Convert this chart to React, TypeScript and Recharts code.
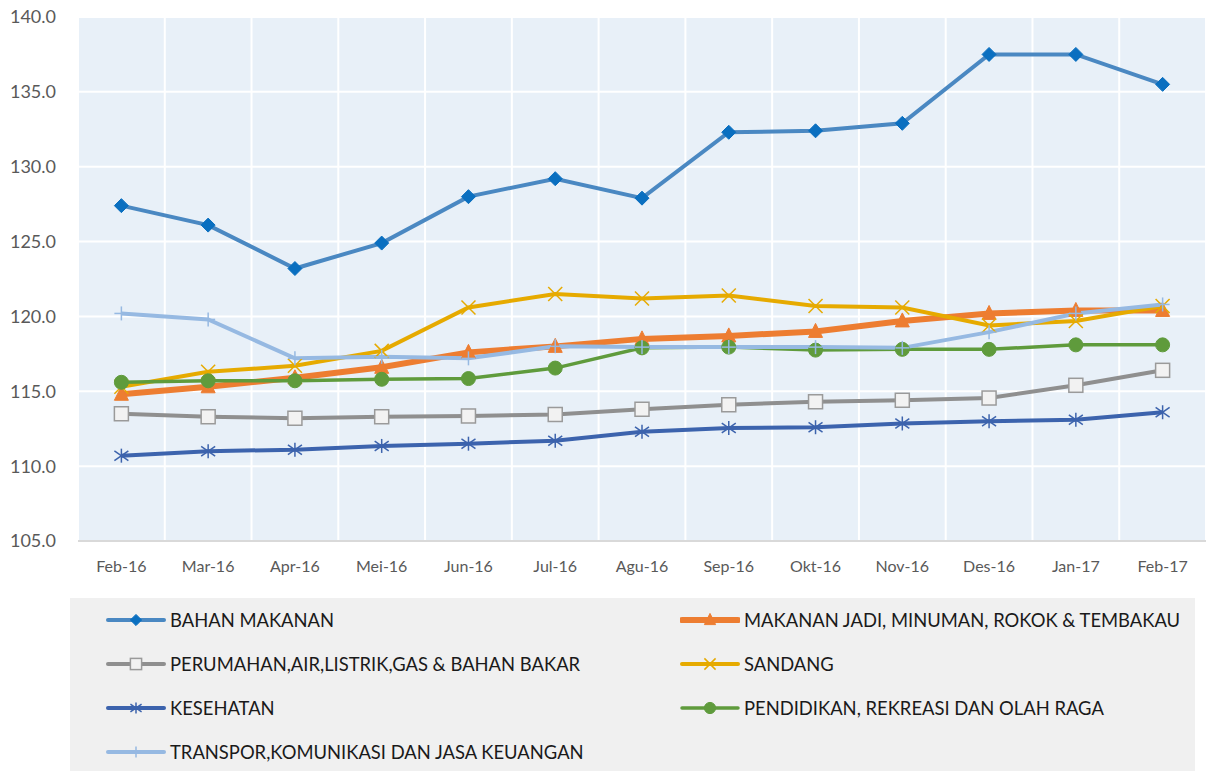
import { LineChart, Line, XAxis, YAxis, CartesianGrid } from 'recharts'

const months = ['Feb-16', 'Mar-16', 'Apr-16', 'Mei-16', 'Jun-16', 'Jul-16', 'Agu-16', 'Sep-16', 'Okt-16', 'Nov-16', 'Des-16', 'Jan-17', 'Feb-17']

const bahanMakanan = [127.4, 126.1, 123.2, 124.9, 128.0, 129.2, 127.9, 132.3, 132.4, 132.9, 137.5, 137.5, 135.5]
const makananJadi = [114.8, 115.3, 115.9, 116.6, 117.6, 118.0, 118.5, 118.7, 119.0, 119.7, 120.2, 120.4, 120.4]
const perumahan = [113.5, 113.3, 113.2, 113.3, 113.35, 113.45, 113.8, 114.1, 114.3, 114.4, 114.55, 115.4, 116.4]
const sandang = [115.3, 116.3, 116.7, 117.7, 120.6, 121.5, 121.2, 121.4, 120.7, 120.6, 119.4, 119.7, 120.7]
const kesehatan = [110.7, 111.0, 111.1, 111.35, 111.5, 111.7, 112.3, 112.55, 112.6, 112.85, 113.0, 113.1, 113.6]
const pendidikan = [115.6, 115.7, 115.7, 115.8, 115.85, 116.55, 117.9, 117.95, 117.75, 117.8, 117.8, 118.1, 118.1]
const transpor = [120.2, 119.8, 117.2, 117.3, 117.2, 118.0, 117.95, 117.95, 117.95, 117.9, 118.95, 120.2, 120.8]

const yTicks = [105, 110, 115, 120, 125, 130, 135, 140]

const data = months.map((m, i) => ({
  month: m,
  bahan: bahanMakanan[i],
  makanan: makananJadi[i],
  perumahan: perumahan[i],
  sandang: sandang[i],
  kesehatan: kesehatan[i],
  pendidikan: pendidikan[i],
  transpor: transpor[i],
}))

type Shape = 'diamond' | 'triangle' | 'square' | 'x' | 'star' | 'circle' | 'plus'

interface SeriesDef {
  key: string
  name: string
  color: string
  width: number
  shape: Shape
  markFill: string
  markStroke: string
}

const series: SeriesDef[] = [
  { key: 'bahan', name: 'BAHAN MAKANAN', color: '#4a88c2', width: 4, shape: 'diamond', markFill: '#0a6fc0', markStroke: '#0a6fc0' },
  { key: 'makanan', name: 'MAKANAN JADI, MINUMAN, ROKOK & TEMBAKAU', color: '#ed7d31', width: 6, shape: 'triangle', markFill: '#ed7d31', markStroke: '#ed7d31' },
  { key: 'perumahan', name: 'PERUMAHAN,AIR,LISTRIK,GAS & BAHAN BAKAR', color: '#8f8f8f', width: 4, shape: 'square', markFill: '#f2f2f2', markStroke: '#9a9a9a' },
  { key: 'sandang', name: 'SANDANG', color: '#e6aa00', width: 4, shape: 'x', markFill: 'none', markStroke: '#e6aa00' },
  { key: 'kesehatan', name: 'KESEHATAN', color: '#3c63ad', width: 4, shape: 'star', markFill: 'none', markStroke: '#3c63ad' },
  { key: 'pendidikan', name: 'PENDIDIKAN, REKREASI DAN OLAH RAGA', color: '#5f9b3c', width: 3.5, shape: 'circle', markFill: '#5f9b3c', markStroke: '#5f9b3c' },
  { key: 'transpor', name: 'TRANSPOR,KOMUNIKASI DAN JASA KEUANGAN', color: '#96b9e2', width: 4, shape: 'plus', markFill: 'none', markStroke: '#96b9e2' },
]

function Marker({ cx, cy, s, scale = 1 }: { cx: number; cy: number; s: SeriesDef; scale?: number }) {
  const r = 7 * scale
  switch (s.shape) {
    case 'diamond':
      return <polygon points={`${cx},${cy - r} ${cx + r},${cy} ${cx},${cy + r} ${cx - r},${cy}`} fill={s.markFill} stroke={s.markStroke} strokeWidth={1} />
    case 'triangle':
      return <polygon points={`${cx},${cy - r - 1} ${cx + r},${cy + r - 1} ${cx - r},${cy + r - 1}`} fill={s.markFill} stroke={s.markStroke} strokeWidth={1} />
    case 'square':
      return <rect x={cx - r} y={cy - r} width={2 * r} height={2 * r} fill={s.markFill} stroke={s.markStroke} strokeWidth={1.5} />
    case 'circle':
      return <circle cx={cx} cy={cy} r={r} fill={s.markFill} stroke={s.markStroke} />
    case 'x':
      return (
        <g stroke={s.markStroke} strokeWidth={1.5}>
          <line x1={cx - r} y1={cy - r} x2={cx + r} y2={cy + r} />
          <line x1={cx - r} y1={cy + r} x2={cx + r} y2={cy - r} />
        </g>
      )
    case 'star':
      return (
        <g stroke={s.markStroke} strokeWidth={1.5}>
          <line x1={cx - r} y1={cy - r * 0.7} x2={cx + r} y2={cy + r * 0.7} />
          <line x1={cx - r} y1={cy + r * 0.7} x2={cx + r} y2={cy - r * 0.7} />
          <line x1={cx} y1={cy - r} x2={cx} y2={cy + r} />
        </g>
      )
    case 'plus':
      return (
        <g stroke={s.markStroke} strokeWidth={1.5}>
          <line x1={cx - r} y1={cy} x2={cx + r} y2={cy} />
          <line x1={cx} y1={cy - r} x2={cx} y2={cy + r} />
        </g>
      )
  }
  return null
}

function makeDot(s: SeriesDef) {
  return (props: any) => {
    const { cx, cy, index } = props
    if (cx == null || cy == null) return <g key={`${s.key}-${index}`} />
    return (
      <g key={`${s.key}-${index}`}>
        <Marker cx={cx} cy={cy} s={s} />
      </g>
    )
  }
}

function LegendItem({ s }: { s: SeriesDef }) {
  return (
    <div style={{ display: 'flex', alignItems: 'center', height: 44 }}>
      <svg width={60} height={20} style={{ marginRight: 4 }}>
        <line x1={2} y1={10} x2={58} y2={10} stroke={s.color} strokeWidth={s.width} strokeLinecap="round" />
        <Marker cx={30} cy={10} s={s} scale={0.8} />
      </svg>
      <span>{s.name}</span>
    </div>
  )
}

export default function App() {
  return (
    <div style={{ position: 'absolute', left: 0, top: 0, width: 1208, height: 771, background: '#ffffff', fontFamily: 'Lato, "Open Sans", sans-serif' }}>
      <LineChart width={1208} height={590} data={data} margin={{ top: 17, right: 2, left: 0, bottom: 0 }}>
        <CartesianGrid
          stroke="#ffffff"
          strokeWidth={2}
          fill="#e8f0f8"
          verticalCoordinatesGenerator={({ offset }: any) =>
            months.map((_, i) => offset.left + ((i + 1) * offset.width) / months.length).concat([offset.left])
          }
        />
        <XAxis
          dataKey="month"
          scale="band"
          height={49}
          tickLine={false}
          axisLine={{ stroke: '#d9d9d9', strokeWidth: 2 }}
          tick={{ fill: '#595959', fontSize: 16 }}
          tickMargin={14}
        />
        <YAxis
          width={78}
          domain={[105, 140]}
          ticks={yTicks}
          tickFormatter={(v: number) => v.toFixed(1)}
          axisLine={false}
          tickLine={false}
          tick={{ fill: '#595959', fontSize: 18 }}
          tickMargin={16}
        />
        {series.map((s) => (
          <Line
            key={s.key}
            type="linear"
            dataKey={s.key}
            name={s.name}
            stroke={s.color}
            strokeWidth={s.width}
            dot={makeDot(s)}
            activeDot={false}
            isAnimationActive={false}
          />
        ))}
      </LineChart>
      <div
        style={{
          position: 'absolute',
          left: 70,
          top: 598,
          width: 1125,
          height: 173,
          background: '#f0f0f0',
          fontSize: 18.4,
          color: '#1a1a1a',
        }}
      >
        <div style={{ position: 'absolute', left: 36, top: 0 }}>
          {series.filter((_, i) => i % 2 === 0).map((s) => (
            <LegendItem key={s.key} s={s} />
          ))}
        </div>
        <div style={{ position: 'absolute', left: 610, top: 0 }}>
          {series.filter((_, i) => i % 2 === 1).map((s) => (
            <LegendItem key={s.key} s={s} />
          ))}
        </div>
      </div>
    </div>
  )
}
